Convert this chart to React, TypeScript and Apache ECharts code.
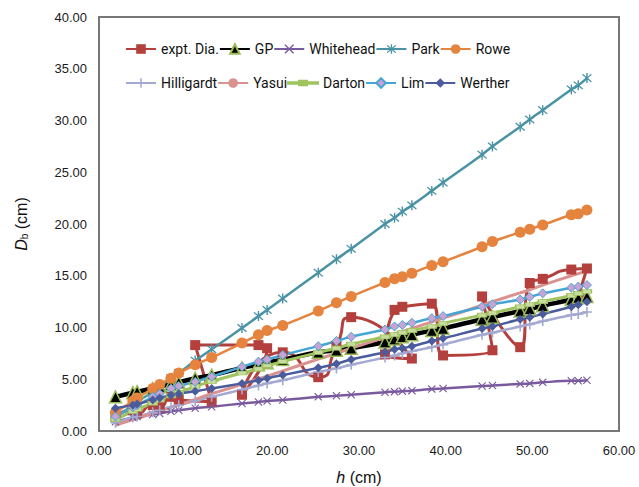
import React, { useEffect, useRef } from "react";
import * as echarts from "echarts";

// h (cm) values, sorted
const hValues = [1.9, 3.9, 4.4, 6.2, 7.0, 8.3, 9.2, 11.1, 13.0, 16.5, 18.4, 19.4, 21.2, 25.3, 27.4, 29.1, 33.0, 34.1, 35.0, 36.1, 38.4, 39.7, 44.2, 45.4, 48.6, 49.7, 51.2, 54.5, 55.3, 56.3];

// experimental data in recorded order (not sorted)
const exptH = [1.9, 3.9, 4.4, 6.2, 7.0, 8.3, 9.2, 13.0, 11.1, 18.4, 19.4, 16.5, 21.2, 25.3, 27.4, 29.1, 36.1, 33.0, 34.1, 35.0, 38.4, 39.7, 45.4, 44.2, 48.6, 49.7, 51.2, 54.5, 56.3, 55.3];
const exptD = [1.4, 2.0, 1.7, 2.5, 2.3, 3.3, 3.0, 2.85, 8.3, 8.3, 8.0, 3.5, 7.6, 5.2, 8.2, 11.0, 7.0, 7.4, 11.7, 12.0, 12.3, 7.3, 7.8, 13.0, 8.1, 14.3, 14.7, 15.6, 15.7, 13.0];

const gpD = [3.3, 3.7, 3.8, 4.1, 4.3, 4.5, 4.7, 5.1, 5.4, 6.1, 6.4, 6.6, 6.9, 7.6, 7.8, 8.0, 8.6, 8.9, 9.1, 9.3, 9.7, 9.9, 10.8, 11.0, 11.6, 11.8, 12.1, 12.7, 12.9, 13.0];
const whiteheadD = [0.9, 1.3, 1.4, 1.6, 1.7, 1.9, 2.0, 2.2, 2.35, 2.65, 2.8, 2.9, 3.0, 3.3, 3.4, 3.5, 3.75, 3.8, 3.85, 3.9, 4.05, 4.1, 4.35, 4.4, 4.55, 4.6, 4.7, 4.85, 4.85, 4.9];
const parkD = [1.3, 2.5, 2.8, 3.8, 4.3, 5.1, 5.6, 6.8, 7.9, 9.95, 11.1, 11.7, 12.8, 15.3, 16.6, 17.6, 20.0, 20.6, 21.2, 21.8, 23.2, 24.0, 26.7, 27.5, 29.4, 30.1, 31.0, 33.0, 33.4, 34.1];
const roweD = [1.8, 2.9, 3.2, 4.1, 4.5, 5.1, 5.6, 6.4, 7.1, 8.5, 9.3, 9.7, 10.2, 11.6, 12.4, 13.0, 14.35, 14.7, 14.9, 15.25, 16.0, 16.35, 17.8, 18.3, 19.2, 19.5, 19.9, 20.9, 21.0, 21.35];
const hilligardtD = [0.8, 1.3, 1.4, 1.8, 2.0, 2.3, 2.5, 2.9, 3.3, 4.0, 4.4, 4.6, 4.9, 5.7, 6.05, 6.4, 7.1, 7.3, 7.5, 7.7, 8.1, 8.35, 9.3, 9.5, 10.1, 10.3, 10.6, 11.2, 11.3, 11.5];
const yasuiD = [0.55, 1.1, 1.2, 1.7, 1.9, 2.3, 2.5, 3.05, 3.6, 4.5, 5.05, 5.3, 5.8, 6.95, 7.5, 8.0, 9.05, 9.4, 9.6, 9.9, 10.55, 10.9, 12.15, 12.5, 13.35, 13.65, 14.1, 15.0, 15.2, 15.5];
const dartonD = [1.1, 1.9, 2.1, 2.7, 3.0, 3.4, 3.7, 4.3, 4.8, 5.6, 6.0, 6.3, 6.7, 7.6, 8.0, 8.4, 9.1, 9.3, 9.5, 9.7, 10.1, 10.4, 11.2, 11.4, 12.0, 12.2, 12.5, 13.1, 13.3, 13.5];
const limD = [1.4, 2.3, 2.5, 3.3, 3.6, 4.1, 4.35, 4.75, 5.25, 6.2, 6.7, 6.9, 7.35, 8.2, 8.7, 9.1, 9.8, 10.1, 10.25, 10.45, 10.9, 11.1, 12.0, 12.25, 12.7, 12.95, 13.3, 13.85, 13.95, 14.1];
const wertherD = [2.2, 2.5, 2.6, 3.0, 3.2, 3.45, 3.6, 3.85, 4.1, 4.6, 4.9, 5.1, 5.4, 6.1, 6.5, 6.9, 7.6, 7.9, 8.0, 8.2, 8.7, 8.95, 9.9, 10.1, 10.8, 11.0, 11.3, 12.0, 12.2, 12.5];

const legendRow1 = ["expt. Dia.", "GP", "Whitehead", "Park", "Rowe"];
const legendRow2 = ["Hilligardt", "Yasui", "Darton", "Lim", "Werther"];

const CROSS = "path://M1,0L5,4L9,0L10,1L6,5L10,9L9,10L5,6L1,10L0,9L4,5L0,1Z";
const PLUS = "path://M4.2,0H5.8V4.2H10V5.8H5.8V10H4.2V5.8H0V4.2H4.2Z";
const STAR = "path://M1,0L5,4L9,0L10,1L6,5L10,9L9,10L5,6L1,10L0,9L4,5L0,1Z M4.3,-1H5.7V11H4.3Z";
const DASH_ICON = "path://M0,4.2H11V2.8H19V4.2H30V5.8H19V7.2H11V5.8H0Z";

const pairs = (xs: number[], ys: number[]) => xs.map((x, i) => [x, ys[i]]);

export default function App() {
  const ref = useRef<HTMLDivElement>(null);
  useEffect(() => {
    const chart = echarts.init(ref.current!, undefined, { renderer: "svg" });
    const calc = (
      name: string,
      ys: number[],
      color: string,
      width: number,
      symbol: string,
      size: any,
      fill: string,
      border: string,
      bw: number
    ) => ({
      name,
      type: "line",
      data: pairs(hValues, ys),
      smooth: 0.3,
      symbol,
      symbolSize: size,
      showSymbol: symbol !== "none",
      lineStyle: { color, width },
      itemStyle: { color: fill, borderColor: border, borderWidth: bw },
    });
    const series: any[] = [
      {
        name: "expt. Dia.",
        type: "line",
        data: pairs(exptH, exptD),
        smooth: 0.7,
        symbol: "rect",
        symbolSize: 10,
        lineStyle: { color: "#b3403c", width: 3 },
        itemStyle: { color: "#b3403c", borderWidth: 0 },
      },
      calc("GP", gpD, "#000000", 4.5, "triangle", 12, "#000000", "#9bbb59", 1.5),
      calc("Whitehead", whiteheadD, "#7a5a9e", 2.5, CROSS, 8, "#7a5a9e", "#7a5a9e", 0),
      calc("Park", parkD, "#4a93a4", 2.5, STAR, 10, "#4a93a4", "#4a93a4", 0),
      calc("Rowe", roweD, "#e5843e", 2.5, "circle", 11, "#e5843e", "#e5843e", 0),
      calc("Hilligardt", hilligardtD, "#a4a9d2", 2.5, PLUS, 10, "#a4a9d2", "#a4a9d2", 0),
      calc("Yasui", yasuiD, "#d9928f", 3, "none", 0, "#d9928f", "#d9928f", 0),
      calc("Darton", dartonD, "#9fc45f", 3, "rect", [9, 4], "#c8dca0", "#9fc45f", 1),
      calc("Lim", limD, "#45a6d6", 2.5, "diamond", 9, "#c9a3d3", "#45a6d6", 1),
      calc("Werther", wertherD, "#4a5c9c", 2.5, "diamond", 9, "#4a5c9c", "#4a5c9c", 0),
    ];
    const legendBase = {
      orient: "horizontal",
      padding: 0,
      itemWidth: 30,
      itemHeight: 12,
      itemGap: 0,
      textStyle: { fontFamily: "Roboto, 'Liberation Sans', sans-serif", fontSize: 14, color: "#111" },
    };
    const row2 = legendRow2.map((n) =>
      n === "Darton" ? { name: n, icon: DASH_ICON, itemStyle: { color: "#9fc45f" } } : n
    );
    const nameFont = "'Liberation Sans', Arial, sans-serif";
    chart.setOption({
      animation: false,
      backgroundColor: "#ffffff",
      grid: {
        left: 99, right: 20, top: 17, bottom: 56,
        outerBoundsMode: "none",
        show: true, borderColor: "#777777", borderWidth: 2, backgroundColor: "transparent",
      },
      legend: [
        { ...legendBase, data: legendRow1, left: 125, top: 42 },
        { ...legendBase, data: row2, left: 125, top: 76 },
      ],
      xAxis: {
        type: "value",
        min: 0,
        max: 60,
        interval: 10,
        axisLine: { show: false },
        axisTick: { show: false },
        splitLine: { show: false },
        axisLabel: { formatter: (v: number) => v.toFixed(2), fontSize: 13, color: "#1a1a1a", fontFamily: nameFont, margin: 13 },
        name: "{i|h}{n| (cm)}",
        nameLocation: "middle",
        nameGap: 38,
        nameTextStyle: {
          rich: {
            i: { fontStyle: "italic", fontSize: 16, fontFamily: nameFont, color: "#111" },
            n: { fontSize: 16, fontFamily: nameFont, color: "#111" },
          },
        },
      },
      yAxis: {
        type: "value",
        min: 0,
        max: 40,
        interval: 5,
        axisLine: { show: false },
        axisTick: { show: false },
        splitLine: { show: false },
        axisLabel: { formatter: (v: number) => v.toFixed(2), fontSize: 13, color: "#1a1a1a", fontFamily: nameFont, margin: 12 },
        name: "{i|D}{s|b}{n| (cm)}",
        nameLocation: "middle",
        nameGap: 70,
        nameTextStyle: {
          rich: {
            i: { fontStyle: "italic", fontSize: 16, fontFamily: nameFont, color: "#111" },
            s: { fontSize: 10, fontFamily: nameFont, color: "#111", verticalAlign: "bottom", padding: [6, 0, 0, 0] },
            n: { fontSize: 16, fontFamily: nameFont, color: "#111" },
          },
        },
      },
      series,
    });
    return () => chart.dispose();
  }, []);
  return <div ref={ref} style={{ width: 639, height: 487, position: "absolute", left: 0, top: 0 }} />;
}
